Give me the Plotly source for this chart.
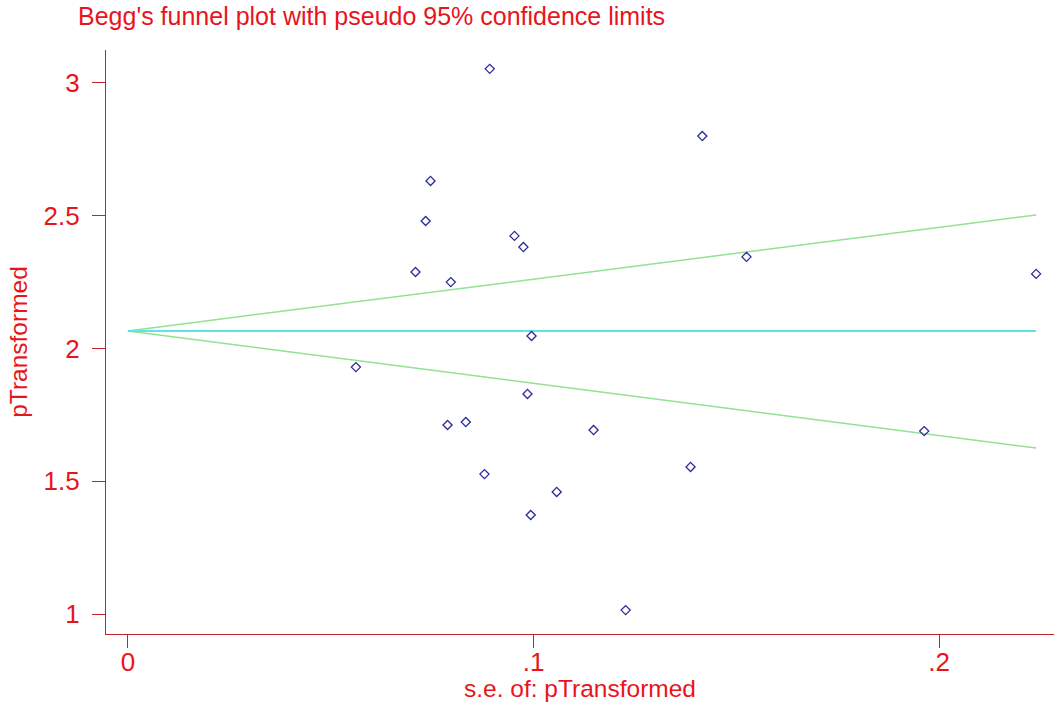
import plotly.graph_objects as go

# Study points: standard error vs transformed estimate
se = [0.0892, 0.1416, 0.0746, 0.0734, 0.0953, 0.0975, 0.0709, 0.0796, 0.1525, 0.2239,
      0.0995, 0.0562, 0.0985, 0.0788, 0.0833, 0.1148, 0.1963, 0.0879, 0.1057, 0.0993,
      0.1387, 0.1227]
est = [3.053, 2.800, 2.631, 2.480, 2.424, 2.382, 2.288, 2.250, 2.345, 2.281,
       2.047, 1.930, 1.829, 1.712, 1.723, 1.693, 1.689, 1.527, 1.460, 1.373,
       1.554, 1.015]

# Pseudo 95% confidence limits (endpoints)
line_se = [0.0, 0.2239]
center = [2.066, 2.066]
upper = [2.066, 2.503]
lower = [2.066, 1.625]

x_ticks = [0, 0.1, 0.2]
x_ticktext = ["0", ".1", ".2"]
y_ticks = [1, 1.5, 2, 2.5, 3]
y_ticktext = ["1", "1.5", "2", "2.5", "3"]

RED = "#e8141c"
AXIS = "#c0242a"
FONT = "Liberation Sans, Arial, sans-serif"

W, H = 1054, 702

fig = go.Figure()
fig.add_trace(go.Scatter(x=line_se, y=upper, mode="lines",
                         line=dict(color="#93e193", width=1.5), hoverinfo="skip"))
fig.add_trace(go.Scatter(x=line_se, y=lower, mode="lines",
                         line=dict(color="#93e193", width=1.5), hoverinfo="skip"))
fig.add_trace(go.Scatter(x=line_se, y=center, mode="lines",
                         line=dict(color="#5fe3e3", width=2), hoverinfo="skip"))
fig.add_trace(go.Scatter(x=se, y=est, mode="markers",
                         marker=dict(symbol="diamond-open", size=7,
                                     color="#2b2b9c", line=dict(width=1.3, color="#2b2b9c"))))

fig.update_layout(
    width=W, height=H,
    margin=dict(l=106, r=0, t=50, b=68),
    paper_bgcolor="white", plot_bgcolor="white",
    showlegend=False,
    font=dict(family=FONT, color=RED),
    title=dict(text="Begg's funnel plot with pseudo 95% confidence limits",
               x=78 / W, xanchor="left", xref="container",
               y=1 - 7 / H, yanchor="top", yref="container",
               font=dict(size=25, color=RED, family=FONT)),
    xaxis=dict(range=[-0.0054, 0.2283], tickvals=x_ticks, ticktext=x_ticktext,
               showgrid=False, zeroline=False, showline=True, linecolor=AXIS, linewidth=1.3,
               ticks="outside", ticklen=13, tickcolor=AXIS, tickwidth=1.3,
               ticklabelstandoff=-8,
               tickfont=dict(size=26, color=RED, family=FONT),
               title=dict(text="s.e. of: pTransformed", standoff=0,
                          font=dict(size=24.5, color=RED, family=FONT))),
    yaxis=dict(range=[0.925, 3.124], tickvals=y_ticks, ticktext=y_ticktext,
               showgrid=False, zeroline=False, showline=True, linecolor=AXIS, linewidth=1.3,
               ticks="outside", ticklen=13, tickcolor=AXIS, tickwidth=1.3,
               ticklabelstandoff=7,
               tickfont=dict(size=26, color=RED, family=FONT),
               title=dict(text="pTransformed", standoff=8,
                          font=dict(size=24.5, color=RED, family=FONT))),
)

fig.write_html("out.html", config={"displayModeBar": False},
               post_script="document.body.style.margin='0';")
